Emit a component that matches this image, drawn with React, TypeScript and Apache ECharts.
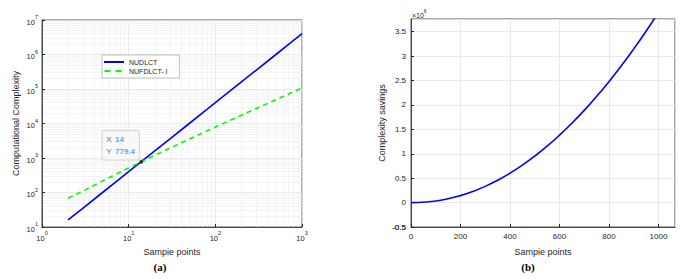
import React, { useEffect, useRef } from "react";
import * as echarts from "echarts";

// Left plot (a): computational complexity vs sample points (log-log)
const samplePointsA = [2, 3, 5, 7, 10, 14, 20, 30, 50, 70, 100, 200, 300, 500, 700, 1000];
const nudlct = [16, 36, 100, 196, 400, 779.4, 1600, 3600, 10000, 19600, 40000, 160000, 360000, 1000000, 1960000, 4000000];
const nufdlct = [68, 112, 217, 332, 517, 779, 1198, 1942, 3540, 5237, 7905, 17450, 27630, 49100, 71500, 106400];
const dataTip = [14, 779.4];

// Right plot (b): complexity savings
const samplePointsB = [0, 50, 100, 150, 200, 250, 300, 350, 400, 450, 500, 550, 600, 650, 700, 750, 800, 850, 900, 950, 1000];
const savings = [0, 6500, 32000, 77000, 142500, 227500, 332000, 457000, 602000, 766000, 951000, 1155000, 1380000, 1624000, 1888000, 2173000, 2477000, 2801000, 3145000, 3509000, 3894000];
const savingsMin = -500000;

const minorX = [2, 3, 4, 5, 6, 7, 8, 9, 20, 30, 40, 50, 60, 70, 80, 90, 200, 300, 400, 500, 600, 700, 800, 900];
const minorY: number[] = [];
for (let e = 1; e < 7; e++) for (let m = 2; m <= 9; m++) minorY.push(m * Math.pow(10, e));

const FONT = "Liberation Sans";
const TXT = "#262626";

export default function App() {
  const ref = useRef<HTMLDivElement>(null);
  useEffect(() => {
    const chart = echarts.init(ref.current!, null, { renderer: "svg" });
    const logLabel = {
      fontFamily: FONT,
      fontSize: 7.5,
      color: TXT,
      hideOverlap: false,
      formatter: (v: number) => `{b|10}{s|${Math.round(Math.log10(v))}}`,
      rich: {
        b: { fontFamily: FONT, fontSize: 7.5, color: TXT, verticalAlign: "bottom", lineHeight: 12 },
        s: { fontFamily: FONT, fontSize: 5.5, color: TXT, verticalAlign: "top", lineHeight: 12, padding: [0, 0, 6, 0] },
      },
    };
    const splitLine = { show: true, lineStyle: { color: "#e3e3e3", width: 0.8 } };
    const tick = { show: true, inside: true, length: 3, lineStyle: { color: TXT } };
    const axisLine = { show: true, onZero: false, lineStyle: { color: TXT, width: 0.8 } };
    const nameStyle = { fontFamily: FONT, fontSize: 9, color: TXT };
    const fmtSavings = (v: number) => String(Math.round(v / 1e5) / 10);

    chart.setOption({
      animation: false,
      backgroundColor: "#ffffff",
      grid: [
        { left: 42, top: 20, width: 260, height: 207, show: true, borderColor: TXT, borderWidth: 0.8 },
        { left: 411, top: 19, width: 264, height: 208, show: true, borderColor: TXT, borderWidth: 0.8 },
      ],
      xAxis: [
        {
          gridIndex: 0, type: "log", logBase: 10, min: 1, max: 1000, interval: 1,
          name: "Sampie points", nameLocation: "middle", nameGap: 20, nameTextStyle: nameStyle,
          axisLabel: { ...logLabel, margin: 3 }, splitLine, axisTick: tick, axisLine,
        },
        {
          gridIndex: 1, type: "value", min: 0, max: 1067, interval: 200,
          name: "Sampie points", nameLocation: "middle", nameGap: 20, nameTextStyle: nameStyle,
          axisLabel: {
            fontFamily: FONT, fontSize: 8, lineHeight: 8, color: TXT, margin: 5, showMaxLabel: false, hideOverlap: false,
            formatter: (v: number) => String(v),
          },
          splitLine, axisTick: tick, axisLine,
        },
      ],
      yAxis: [
        {
          gridIndex: 0, type: "log", logBase: 10, min: 10, max: 1e7, interval: 1,
          name: "Computational Complexity", nameLocation: "middle", nameGap: 22, nameTextStyle: nameStyle,
          axisLabel: { ...logLabel, margin: 4 }, splitLine, axisTick: tick, axisLine,
        },
        {
          gridIndex: 1, type: "value", min: savingsMin, max: 3760000, interval: 500000,
          name: "Complexity savings", nameLocation: "middle", nameGap: 25, nameTextStyle: nameStyle,
          axisLabel: {
            fontFamily: FONT, fontSize: 8, lineHeight: 8, color: TXT, margin: 5,
            showMaxLabel: false, hideOverlap: false, formatter: fmtSavings,
          },
          splitLine, axisTick: tick, axisLine,
        },
      ],
      legend: {
        left: 102, top: 55, orient: "vertical", itemWidth: 20, itemHeight: 2, itemGap: 1,
        padding: [3, 12, 3, 2], borderColor: "#aaa", borderWidth: 0.7, backgroundColor: "#fff",
        textStyle: { fontFamily: FONT, fontSize: 7, color: TXT, lineHeight: 8 },
        data: [
          { name: "NUDLCT", icon: "path://M0,0h20v2h-20z" },
          { name: "NUFDLCT- I", icon: "path://M1,0h6v2h-6z M12,0h6v2h-6z M19.9,0h0.1v2h-0.1z" },
        ],
      },
      series: [
        {
          type: "line", name: "minor", xAxisIndex: 0, yAxisIndex: 0, data: [], silent: true, z: 0,
          markLine: {
            silent: true, symbol: "none", label: { show: false }, z: 0,
            lineStyle: { color: "#f1f1f1", width: 0.8, type: "solid" },
            data: [...minorX.map((v) => ({ xAxis: v })), ...minorY.map((v) => ({ yAxis: v }))],
          },
        },
        {
          type: "line", name: "NUDLCT", xAxisIndex: 0, yAxisIndex: 0, symbol: "none", z: 3,
          lineStyle: { color: "#0000ff", width: 1.6 }, itemStyle: { color: "#0000ff" },
          data: samplePointsA.map((x, i) => [x, nudlct[i]]),
        },
        {
          type: "line", name: "NUFDLCT- I", xAxisIndex: 0, yAxisIndex: 0, symbol: "none", z: 3,
          lineStyle: { color: "#00ff00", width: 1.6, type: [5, 4] }, itemStyle: { color: "#00ff00" },
          data: samplePointsA.map((x, i) => [x, nufdlct[i]]),
        },
        {
          type: "scatter", name: "tip", xAxisIndex: 0, yAxisIndex: 0, symbolSize: 4, z: 5,
          itemStyle: { color: "#222" },
          data: [dataTip],
          label: {
            show: true, position: [-37, -29], align: "left", verticalAlign: "top",
            backgroundColor: "#f7f7f7", borderColor: "#c4c4c4", borderWidth: 0.8, borderRadius: 2,
            padding: [3, 4, 2, 4],
            formatter: (p: any) => `{k|X} {v|${p.value[0]}}\n{k|Y} {v|${p.value[1]}}`,
            rich: {
              k: { fontFamily: FONT, fontSize: 8, color: "#404040", lineHeight: 12 },
              v: { fontFamily: FONT, fontSize: 8, color: "#1e96f0", fontWeight: "bold", lineHeight: 12 },
            },
          },
        },
        {
          type: "line", name: "savings", xAxisIndex: 1, yAxisIndex: 1, symbol: "none", smooth: true,
          lineStyle: { color: "#0000ff", width: 1.6 },
          data: samplePointsB.map((x, i) => [x, savings[i]]),
        },
      ],
      graphic: [
        {
          type: "text", left: 412, top: 8,
          style: {
            text: "{a|×10}{s|6}",
            rich: {
              a: { fontFamily: FONT, fontSize: 7, fill: TXT, verticalAlign: "bottom", lineHeight: 11 },
              s: { fontFamily: FONT, fontSize: 5, fill: TXT, verticalAlign: "top", lineHeight: 11, padding: [0, 0, 5, 0] },
            },
          },
        },
        {
          type: "text", x: 406, y: 227,
          style: {
            text: fmtSavings(savingsMin), font: `8px '${FONT}'`, fill: TXT,
            align: "right", verticalAlign: "middle",
          },
        },
        {
          type: "text", x: 160, y: 267,
          style: { text: "(a)", font: "bold 11px 'Liberation Serif'", fill: "#000", align: "center", verticalAlign: "middle" },
        },
        {
          type: "text", x: 528, y: 267,
          style: { text: "(b)", font: "bold 11px 'Liberation Serif'", fill: "#000", align: "center", verticalAlign: "middle" },
        },
      ],
    });
    return () => chart.dispose();
  }, []);
  return (
    <div
      ref={ref}
      style={{ position: "fixed", left: 0, top: 0, width: 687, height: 279, background: "#fff" }}
    />
  );
}
